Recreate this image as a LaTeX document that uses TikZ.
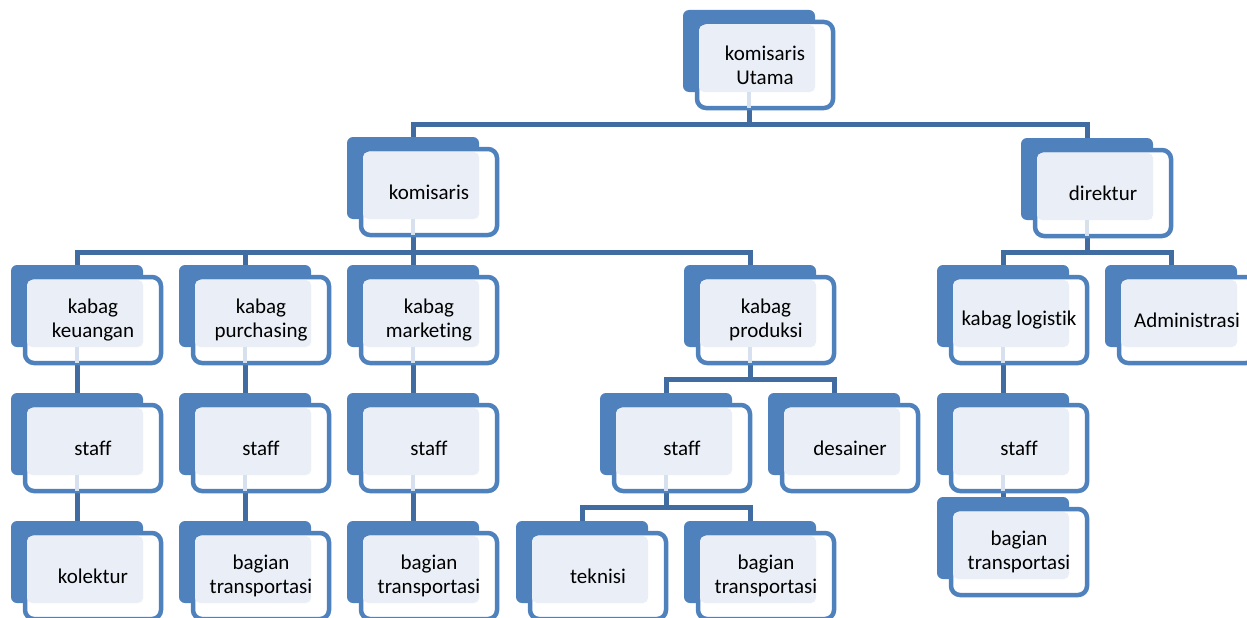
\documentclass[tikz,border=0pt]{standalone}
\usepackage{fontspec}
\setmainfont{Carlito}[Ligatures={NoCommon}]
\pgfdeclarelayer{background}
\pgfsetlayers{background,main}
\definecolor{darkblue}{RGB}{79,129,189}
\definecolor{lightfill}{RGB}{234,239,247}
\definecolor{connblue}{RGB}{65,108,162}
\definecolor{stubcol}{RGB}{214,224,238}
\tikzset{
  backbox/.style={fill=darkblue, draw=none, rounded corners=6pt, minimum width=132pt, minimum height=82pt, inner sep=0pt, outer sep=0pt},
  framebox/.style={fill=white, draw=darkblue, line width=4.5pt, rounded corners=9pt, minimum width=136pt, minimum height=86pt, inner sep=0pt, outer sep=0pt},
  lightbox/.style={fill=lightfill, draw=none, rounded corners=5pt, minimum width=116pt, minimum height=67pt, inner sep=0pt, outer sep=0pt},
  label/.style={align=center, font=\fontsize{21}{24}\selectfont, inner sep=0pt, text=black},
  stub/.style={draw=stubcol, line width=4pt},
  conn/.style={draw=connblue, line width=5pt}
}
\newcommand\obox[4]{%
  \node[backbox] (#1-b) at ({#2+66},{#3+41}) {};
  \node[framebox] (#1-f) at ({#2+82},{#3+55}) {};
  \node[lightbox] (#1-l) at ({#2+74},{#3+48.5}) {};
  \coordinate (#1-s) at ({#2+66},{#3+98});
  \node[label] (#1) at ({#2+82},{#3+55}) {#4};
}
\newcommand\ostub[1]{\draw[stub] (#1-b.south) -- (#1-s);}
\begin{document}
\begin{tikzpicture}[x=1pt,y=-1pt]
\useasboundingbox (0,0) rectangle (1247,618);
\clip (0,0) rectangle (1247,618);
\obox{ut}{683}{10}{komisaris\\Utama}
\obox{kom}{347}{137}{komisaris}
\obox{dir}{1021}{138}{direktur}
\obox{keu}{11}{265}{kabag\\keuangan}
\obox{pur}{179}{265}{kabag\\purchasing}
\obox{mar}{347}{265}{kabag\\marketing}
\obox{pro}{684}{265}{kabag\\produksi}
\obox{log}{937}{265}{kabag logistik}
\obox{adm}{1105}{265}{Administrasi}
\obox{skeu}{11}{393}{staff}
\obox{spur}{179}{393}{staff}
\obox{smar}{347}{393}{staff}
\obox{spro}{600}{393}{staff}
\obox{des}{768}{393}{desainer}
\obox{slog}{937}{393}{staff}
\obox{tlog}{937}{497}{bagian\\transportasi}
\obox{kol}{11}{521}{kolektur}
\obox{tpur}{179}{521}{bagian\\transportasi}
\obox{tmar}{347}{521}{bagian\\transportasi}
\obox{tek}{516}{521}{teknisi}
\obox{tpro}{684}{521}{bagian\\transportasi}
\ostub{ut}\ostub{kom}\ostub{dir}\ostub{keu}\ostub{pur}\ostub{mar}\ostub{pro}\ostub{log}
\ostub{skeu}\ostub{spur}\ostub{smar}\ostub{spro}\ostub{slog}
\coordinate (bar1) at (0,124.5);
\coordinate (bar2) at (0,252);
\coordinate (bar3) at (0,379);
\coordinate (bar4) at (0,507);
\begin{pgfonlayer}{background}
  \fill[white] (0,0) rectangle (1247,618);
  \draw[conn] (ut-s) -- (ut-s |- bar1) -| (kom-b.north);
  \draw[conn] (ut-s |- bar1) -| (dir-b.north);
  \draw[conn] (kom-s) -- (kom-s |- bar2) -| (keu-b.north);
  \draw[conn] (kom-s |- bar2) -| (pur-b.north);
  \draw[conn] (kom-s |- bar2) -| (mar-b.north);
  \draw[conn] (kom-s |- bar2) -| (pro-b.north);
  \draw[conn] (dir-s) -- (dir-s |- bar2) -| (log-b.north);
  \draw[conn] (dir-s |- bar2) -| (adm-b.north);
  \draw[conn] (pro-s) -- (pro-s |- bar3) -| (spro-b.north);
  \draw[conn] (pro-s |- bar3) -| (des-b.north);
  \draw[conn] (spro-s) -- (spro-s |- bar4) -| (tek-b.north);
  \draw[conn] (spro-s |- bar4) -| (tpro-b.north);
  \draw[conn] (keu-s) -- (skeu-b.north);
  \draw[conn] (skeu-s) -- (kol-b.north);
  \draw[conn] (pur-s) -- (spur-b.north);
  \draw[conn] (spur-s) -- (tpur-b.north);
  \draw[conn] (mar-s) -- (smar-b.north);
  \draw[conn] (smar-s) -- (tmar-b.north);
  \draw[conn] (log-s) -- (slog-b.north);
  \draw[conn] (slog-s) -- (tlog-b.north);
\end{pgfonlayer}
\end{tikzpicture}
\end{document}
